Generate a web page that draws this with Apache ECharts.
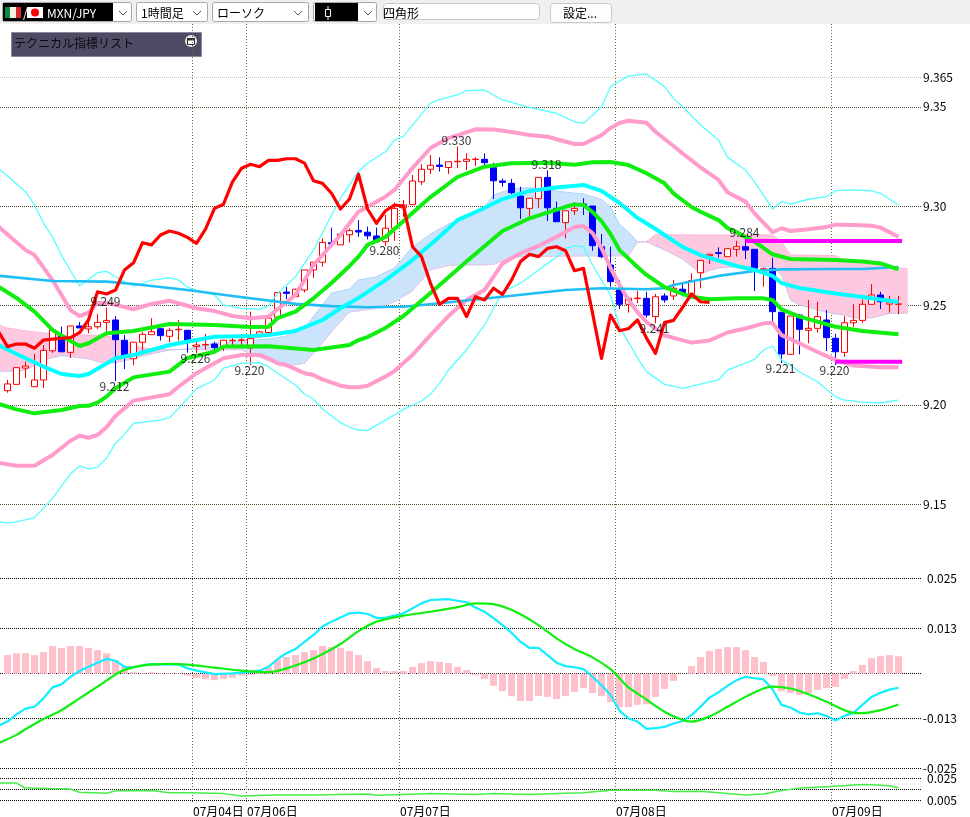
<!DOCTYPE html>
<html>
<head>
<meta charset="utf-8">
<style>html,body{margin:0;padding:0;background:#fff}#chart{width:970px;height:817px}</style>
<script src="https://cdn.jsdelivr.net/npm/echarts@6/dist/echarts.min.js"></script>
</head>
<body>
<div id="chart"></div>
<script>
// MXN/JPY hourly candles, index 0 is the oldest bar.
const opens = [9.2071,9.2103,9.2185,9.2091,9.2125,9.2272,9.2346,9.2264,9.2397,9.2382,
9.2393,9.2415,9.2427,9.2325,9.2232,9.2315,9.2353,9.2383,9.2345,9.2378,
9.2375,9.2293,9.2302,9.2306,9.2288,9.2323,9.2325,9.2286,9.2351,9.2364,
9.2441,9.2568,9.2544,9.2578,9.2679,9.2718,9.2816,9.2805,9.2856,9.2878,
9.2869,9.2850,9.2821,9.2889,9.2992,9.3008,9.3123,9.3186,9.3207,9.3195,
9.3224,9.3226,9.3235,9.3236,9.3194,9.3127,9.3115,9.3051,9.2989,9.3038,
9.3145,9.2989,9.2917,9.2977,9.3011,9.3001,9.2796,9.2704,9.2582,9.2506,
9.2535,9.2536,9.2444,9.2548,9.2548,9.2582,9.2558,9.2665,9.2751,9.2766,
9.2746,9.2783,9.2796,9.2783,9.2680,9.2687,9.2466,9.2254,9.2452,9.2375,
9.2385,9.2427,9.2335,9.2264,9.2413,9.2425,9.2506,9.2553,9.2507,9.2506];
const closes = [9.2105,9.2187,9.2195,9.2125,9.2274,9.2377,9.2267,9.2397,9.2387,9.2393,
9.2415,9.2425,9.2328,9.2242,9.2315,9.2355,9.2368,9.2348,9.2375,9.2380,
9.2323,9.2301,9.2304,9.2288,9.2325,9.2325,9.2327,9.2333,9.2367,9.2436,
9.2565,9.2561,9.2582,9.2679,9.2718,9.2818,9.2810,9.2860,9.2877,9.2870,
9.2851,9.2821,9.2889,9.2989,9.3006,9.3127,9.3186,9.3206,9.3200,9.3224,
9.3226,9.3236,9.3237,9.3219,9.3128,9.3120,9.3068,9.2992,9.3040,9.3145,
9.2992,9.2922,9.2977,9.2989,9.3001,9.2801,9.2746,9.2620,9.2506,9.2536,
9.2537,9.2452,9.2544,9.2528,9.2587,9.2564,9.2626,9.2727,9.2758,9.2762,
9.2786,9.2796,9.2779,9.2687,9.2685,9.2469,9.2256,9.2447,9.2380,9.2385,
9.2444,9.2338,9.2267,9.2413,9.2425,9.2506,9.2553,9.2519,9.2514,9.2508];
const lows = [9.2061,9.2103,9.2135,9.2091,9.2085,9.2262,9.2265,9.2236,9.2387,9.2360,
9.2382,9.2368,9.2120,9.2180,9.2200,9.2267,9.2353,9.2323,9.2315,9.2323,
9.2262,9.2260,9.2276,9.2276,9.2271,9.2291,9.2291,9.2200,9.2336,9.2362,
9.2441,9.2533,9.2544,9.2566,9.2638,9.2695,9.2810,9.2805,9.2816,9.2846,
9.2833,9.2821,9.2800,9.2826,9.2947,9.3008,9.3107,9.3162,9.3174,9.3162,
9.3192,9.3182,9.3202,9.3204,9.3036,9.3098,9.3061,9.2936,9.2947,9.2992,
9.2925,9.2922,9.2838,9.2956,9.2956,9.2776,9.2738,9.2595,9.2482,9.2464,
9.2511,9.2439,9.2410,9.2514,9.2528,9.2548,9.2553,9.2586,9.2709,9.2741,
9.2746,9.2746,9.2734,9.2573,9.2595,9.2422,9.2210,9.2254,9.2254,9.2310,
9.2363,9.2271,9.2200,9.2242,9.2393,9.2413,9.2506,9.2482,9.2464,9.2456];
const highs = [9.2125,9.2190,9.2217,9.2256,9.2301,9.2377,9.2393,9.2397,9.2417,9.2418,
9.2457,9.2490,9.2447,9.2351,9.2315,9.2367,9.2436,9.2387,9.2388,9.2427,
9.2377,9.2336,9.2357,9.2318,9.2327,9.2341,9.2357,9.2469,9.2372,9.2437,
9.2568,9.2593,9.2585,9.2679,9.2718,9.2838,9.2892,9.2870,9.2889,9.2930,
9.2897,9.2892,9.2956,9.3018,9.3031,9.3157,9.3212,9.3258,9.3246,9.3224,
9.3300,9.3266,9.3246,9.3266,9.3219,9.3140,9.3137,9.3098,9.3040,9.3145,
9.3180,9.3023,9.2977,9.3020,9.3040,9.3001,9.2860,9.2796,9.2628,9.2536,
9.2573,9.2569,9.2558,9.2561,9.2628,9.2615,9.2662,9.2727,9.2758,9.2793,
9.2786,9.2826,9.2840,9.2783,9.2692,9.2741,9.2466,9.2447,9.2457,9.2528,
9.2519,9.2477,9.2357,9.2447,9.2506,9.2531,9.2608,9.2569,9.2548,9.2548];

// Band and average curves as [bar index, price] vertices.
const band3Upper = [[-1,9.3191],[2,9.3073],[3,9.3006],[4,9.2915],[5,9.2845],[6,9.2752],[8,9.2598],[9,9.2632],[10,9.2665],[11,9.2672],[12,9.2645],[13,9.2620],[14,9.2598],[15,9.2612],[16,9.2628],[17,9.2633],[18,9.2640],[19,9.2628],[20,9.2592],[21,9.2575],[23,9.2553],[24,9.2503],[26,9.2486],[28,9.2481],[29,9.2497],[30,9.2561],[32,9.2645],[34,9.2779],[37,9.3041],[39,9.3174],[40,9.3216],[42,9.3274],[43,9.3333],[44,9.3353],[47,9.3518],[48,9.3538],[50,9.3560],[51,9.3582],[53,9.3585],[55,9.3535],[58,9.3498],[61,9.3468],[63,9.3425],[64,9.3417],[66,9.3501],[67,9.3602],[69,9.3656],[71,9.3666],[73,9.3602],[74,9.3543],[75,9.3501],[77,9.3409],[79,9.3333],[80,9.3246],[82,9.3182],[83,9.3123],[85,9.2986],[86,9.3023],[87,9.3010],[89,9.3035],[91,9.3048],[92,9.3078],[94,9.3082],[96,9.3077],[97,9.3065],[99,9.3006]];
const band3Lower = [[-1,9.1411],[0,9.1405],[1,9.1411],[3,9.1432],[5,9.1529],[7,9.1652],[8,9.1693],[9,9.1677],[10,9.1685],[11,9.1731],[12,9.1806],[13,9.1851],[14,9.1907],[17,9.1923],[18,9.1935],[19,9.1982],[21,9.2080],[23,9.2125],[24,9.2185],[26,9.2209],[28,9.2212],[29,9.2192],[30,9.2159],[32,9.2100],[33,9.2053],[34,9.2029],[35,9.1979],[37,9.1910],[38,9.1887],[39,9.1873],[40,9.1870],[42,9.1923],[43,9.1949],[44,9.1977],[46,9.2019],[47,9.2054],[48,9.2108],[49,9.2175],[51,9.2276],[53,9.2402],[55,9.2568],[57,9.2613],[58,9.2645],[59,9.2679],[60,9.2712],[61,9.2743],[62,9.2788],[63,9.2800],[64,9.2796],[65,9.2704],[66,9.2628],[67,9.2553],[68,9.2392],[69,9.2316],[70,9.2236],[71,9.2167],[73,9.2103],[75,9.2083],[79,9.2125],[80,9.2175],[83,9.2229],[84,9.2276],[85,9.2296],[86,9.2226],[87,9.2200],[88,9.2165],[90,9.2116],[92,9.2041],[93,9.2024],[95,9.2013],[97,9.2009],[99,9.2024]];
const band2Upper = [[-1,9.2897],[2,9.2779],[3,9.2754],[5,9.2628],[7,9.2477],[8,9.2447],[9,9.2464],[10,9.2513],[11,9.2514],[12,9.2503],[14,9.2481],[16,9.2508],[18,9.2524],[21,9.2486],[23,9.2472],[25,9.2447],[27,9.2436],[29,9.2444],[30,9.2481],[32,9.2553],[34,9.2704],[37,9.2855],[39,9.2972],[42,9.3048],[43,9.3082],[45,9.3192],[47,9.3293],[49,9.3343],[52,9.3387],[54,9.3386],[56,9.3374],[58,9.3358],[60,9.3350],[61,9.3337],[63,9.3313],[64,9.3313],[66,9.3358],[67,9.3394],[68,9.3419],[69,9.3430],[71,9.3420],[72,9.3375],[74,9.3303],[75,9.3266],[77,9.3196],[79,9.3132],[80,9.3070],[82,9.3023],[83,9.2964],[85,9.2869],[86,9.2889],[87,9.2875],[89,9.2884],[91,9.2895],[92,9.2907],[94,9.2905],[96,9.2902],[97,9.2892],[99,9.2846]];
const band2Lower = [[-1,9.1708],[1,9.1693],[3,9.1693],[5,9.1747],[7,9.1819],[8,9.1844],[9,9.1834],[10,9.1848],[11,9.1887],[12,9.1944],[13,9.1982],[14,9.2021],[18,9.2053],[19,9.2091],[21,9.2159],[23,9.2209],[24,9.2234],[26,9.2251],[28,9.2251],[29,9.2234],[30,9.2209],[31,9.2200],[32,9.2180],[33,9.2159],[34,9.2150],[35,9.2128],[37,9.2096],[38,9.2088],[39,9.2088],[40,9.2096],[42,9.2142],[43,9.2170],[45,9.2251],[47,9.2351],[49,9.2447],[51,9.2528],[53,9.2578],[55,9.2712],[57,9.2763],[59,9.2800],[61,9.2846],[63,9.2895],[64,9.2900],[65,9.2865],[66,9.2790],[67,9.2689],[68,9.2603],[69,9.2528],[70,9.2467],[71,9.2417],[73,9.2349],[76,9.2313],[78,9.2324],[80,9.2364],[82,9.2384],[84,9.2410],[85,9.2413],[86,9.2351],[88,9.2310],[90,9.2266],[92,9.2226],[94,9.2198],[97,9.2189],[99,9.2189]];
const band1Upper = [[-1,9.2595],[1,9.2538],[3,9.2469],[5,9.2377],[7,9.2321],[8,9.2296],[9,9.2310],[11,9.2360],[14,9.2372],[18,9.2407],[23,9.2402],[27,9.2392],[29,9.2393],[30,9.2436],[32,9.2469],[34,9.2536],[36,9.2613],[38,9.2699],[39,9.2746],[40,9.2805],[42,9.2845],[45,9.2966],[47,9.3046],[50,9.3147],[53,9.3199],[56,9.3216],[60,9.3219],[63,9.3209],[65,9.3221],[67,9.3223],[69,9.3207],[71,9.3166],[73,9.3115],[74,9.3065],[76,9.2996],[77,9.2972],[79,9.2930],[80,9.2890],[81,9.2870],[82,9.2845],[83,9.2821],[84,9.2790],[85,9.2758],[87,9.2734],[92,9.2729],[95,9.2721],[97,9.2712],[99,9.2682]];
const band1Lower = [[-1,9.2004],[1,9.1977],[3,9.1957],[6,9.1974],[8,9.1994],[9,9.1995],[10,9.2011],[11,9.2041],[12,9.2083],[14,9.2138],[18,9.2167],[20,9.2236],[23,9.2267],[24,9.2293],[29,9.2295],[34,9.2276],[38,9.2301],[39,9.2326],[40,9.2341],[42,9.2387],[44,9.2447],[47,9.2563],[51,9.2721],[55,9.2875],[58,9.2939],[62,9.2997],[63,9.3009],[64,9.3006],[65,9.2971],[66,9.2925],[67,9.2860],[68,9.2779],[70,9.2694],[71,9.2654],[73,9.2593],[75,9.2558],[76,9.2544],[78,9.2531],[81,9.2536],[84,9.2536],[85,9.2528],[86,9.2481],[88,9.2444],[92,9.2393],[95,9.2372],[99,9.2355]];
const midAverage = [[-1,9.2301],[1,9.2256],[4,9.2192],[6,9.2155],[8,9.2145],[9,9.2155],[12,9.2234],[14,9.2251],[18,9.2301],[21,9.2326],[23,9.2343],[27,9.2346],[29,9.2351],[32,9.2372],[35,9.2427],[37,9.2486],[39,9.2538],[42,9.2628],[45,9.2729],[48,9.2846],[50,9.2930],[53,9.2991],[55,9.3036],[58,9.3077],[61,9.3094],[64,9.3107],[66,9.3077],[68,9.3016],[70,9.2941],[72,9.2885],[75,9.2795],[77,9.2754],[81,9.2699],[83,9.2679],[85,9.2649],[86,9.2613],[88,9.2588],[92,9.2560],[95,9.2543],[99,9.2518]];
const longAverage = [[-1,9.2650],[5,9.2623],[11,9.2620],[14,9.2608],[20,9.2578],[25,9.2548],[32,9.2508],[36,9.2497],[40,9.2491],[44,9.2494],[48,9.2511],[55,9.2544],[62,9.2578],[66,9.2587],[71,9.2582],[73,9.2587],[74,9.2603],[79,9.2649],[83,9.2674],[86,9.2682],[92,9.2684],[95,9.2684],[99,9.2694]];

// Lagging close, one value per bar from index -1 up to bar 78.
const laggingClose = [9.2368,9.2293,9.2306,9.2306,9.2285,9.2326,9.2331,9.2335,9.2338,9.2363,9.2427,
9.2569,9.2558,9.2578,9.2679,9.2715,9.2816,9.2805,9.2855,9.2875,9.2864,
9.2843,9.2813,9.2885,9.2989,9.3010,9.3123,9.3191,9.3211,9.3199,9.3231,
9.3231,9.3239,9.3239,9.3217,9.3128,9.3115,9.3065,9.2986,9.3036,9.3161,
9.2986,9.2914,9.2977,9.3006,9.3001,9.2796,9.2746,9.2612,9.2506,9.2536,
9.2536,9.2444,9.2544,9.2528,9.2587,9.2556,9.2628,9.2721,9.2758,9.2746,
9.2788,9.2796,9.2776,9.2675,9.2687,9.2462,9.2234,9.2452,9.2373,9.2384,
9.2427,9.2336,9.2259,9.2414,9.2425,9.2490,9.2558,9.2519,9.2516];

// Leading spans of the cloud, sampled at the same bars.
const spanBars = [-1,0,2,4,6,9,11,13,15,17,18,20,23,26,29,31,33,35,36,38,39,41,43,45,47,49,51,53,54,56,58,60,62,64,66,67,68,69,70,71,72,73,75,77,79,81,83,85,86,87,88,90,92,93,94,96,98,99,100];
const spanOne = [9.2402,9.2387,9.2372,9.2362,9.2351,9.2351,9.2349,9.2321,9.2286,9.2281,9.2278,9.2278,9.2278,9.2276,9.2221,9.2195,9.2208,9.2311,9.2367,9.2467,9.2472,9.2487,9.2518,9.2573,9.2679,9.2701,9.2704,9.2704,9.2707,9.2744,9.2747,9.2747,9.2748,9.2749,9.2749,9.2749,9.2749,9.2749,9.2820,9.2821,9.2857,9.2856,9.2856,9.2855,9.2855,9.2855,9.2855,9.2855,9.2820,9.2754,9.2754,9.2753,9.2751,9.2729,9.2724,9.2714,9.2699,9.2687,9.2687];
const spanTwo = [9.2170,9.2168,9.2173,9.2226,9.2248,9.2231,9.2205,9.2221,9.2246,9.2266,9.2276,9.2281,9.2311,9.2321,9.2331,9.2346,9.2387,9.2503,9.2563,9.2583,9.2628,9.2645,9.2689,9.2795,9.2860,9.2910,9.2947,9.2996,9.3056,9.3087,9.3094,9.3082,9.3071,9.3061,9.3034,9.2996,9.2908,9.2870,9.2820,9.2821,9.2800,9.2779,9.2734,9.2662,9.2689,9.2694,9.2695,9.2695,9.2654,9.2528,9.2503,9.2477,9.2457,9.2452,9.2437,9.2437,9.2460,9.2461,9.2461];

// Recent high and low levels.
const highLevel = [[82,9.2825],[99.4,9.2825]];
const lowLevel = [[92,9.2217],[99.4,9.2217]];

// Extreme labels: bar and price.
const highNotes = [[11,9.249],[50,9.330],[60,9.318],[82,9.284]];
const lowNotes = [[12,9.212],[21,9.226],[27,9.220],[42,9.280],[72,9.241],[86,9.221],[92,9.220]];

// MACD panel.
const macdHist = [.0049,.0054,.0054,.0049,.0057,.0073,.0068,.0073,.0073,.0068,
.0062,.0054,.0036,.0018,.0004,.0002,.0004,.0002,.0002,.0002,
-.0005,-.0011,-.0014,-.0017,-.0014,-.0011,-.0005,-.0003,.0002,.0017,
.0036,.0044,.0049,.0057,.0062,.0073,.0070,.0068,.0060,.0049,
.0033,.0015,.0007,.0007,.0007,.0018,.0028,.0033,.0031,.0028,
.0018,.0010,-.0004,-.0014,-.0032,-.0046,-.0059,-.0072,-.0072,-.0059,
-.0061,-.0067,-.0059,-.0048,-.0038,-.0051,-.0059,-.0075,-.0088,-.0088,
-.0082,-.0080,-.0061,-.0040,-.0019,-.0001,.0020,.0044,.0060,.0065,
.0070,.0070,.0062,.0044,.0031,-.0006,-.0046,-.0051,-.0056,-.0051,
-.0043,-.0038,-.0035,-.0014,.0007,.0023,.0041,.0046,.0049,.0046];
const macdLine = [[-1,-.0137],[0,-.0126],[1,-.0107],[2,-.0092],[3,-.0087],[4,-.0065],[5,-.0036],[6,-.0028],[7,-.0008],[8,.0007],[9,.0018],[10,.0029],[11,.0039],[12,.0034],[13,.0018],[14,.0017],[16,.0025],[19,.0024],[20,.0014],[21,.0008],[23,-.0001],[25,.0001],[27,.0005],[28,.0008],[29,.0018],[30,.0038],[31,.0054],[32,.0065],[33,.0084],[34,.0102],[35,.0124],[36,.0137],[38,.0159],[39,.0161],[40,.0157],[41,.0147],[42,.0147],[44,.0159],[46,.0185],[47,.0194],[49,.0196],[51,.0188],[52,.0174],[53,.0163],[54,.0146],[55,.0128],[56,.0108],[57,.0084],[58,.0068],[59,.0068],[60,.0049],[61,.0029],[62,.0020],[63,.0017],[64,.0012],[65,-.0008],[66,-.0030],[67,-.0056],[68,-.0097],[69,-.0118],[70,-.0126],[71,-.0145],[72,-.0143],[73,-.0140],[74,-.0131],[75,-.0125],[76,-.0109],[77,-.0087],[78,-.0063],[79,-.0049],[80,-.0032],[81,-.0017],[82,-.0008],[83,-.0012],[84,-.0015],[85,-.0041],[86,-.0082],[87,-.0089],[88,-.0102],[89,-.0107],[90,-.0104],[91,-.0111],[92,-.0123],[93,-.0111],[94,-.0103],[95,-.0082],[96,-.0061],[97,-.0050],[98,-.0042],[99,-.0037]];
const macdSignal = [[-1,-.0183],[1,-.0161],[2,-.0146],[4,-.0119],[6,-.0096],[8,-.0065],[10,-.0034],[12,-.0002],[13,.0010],[15,.0022],[18,.0026],[20,.0024],[23,.0016],[26,.0008],[29,.0004],[31,.0014],[34,.0040],[37,.0078],[39,.0112],[41,.0137],[44,.0153],[47,.0163],[50,.0175],[52,.0185],[54,.0183],[56,.0168],[59,.0128],[61,.0093],[63,.0065],[65,.0043],[67,.0012],[68,-.0012],[69,-.0036],[71,-.0068],[73,-.0100],[75,-.0122],[76,-.0126],[78,-.0113],[80,-.0087],[82,-.0061],[84,-.0039],[85,-.0034],[87,-.0039],[89,-.0054],[91,-.0074],[93,-.0096],[94,-.0103],[95,-.0104],[97,-.0096],[99,-.0081]];

// Lower strength panel.
const strengthLine = [[-1,.0204],[1,.0204],[2,.0158],[7,.0149],[8,.0121],[11,.0112],[12,.0133],[16,.0136],[18,.0117],[20,.0117],[24,.0108],[26,.0087],[30,.0096],[34,.0096],[40,.0105],[41,.0093],[44,.0099],[47,.0108],[52,.0099],[54,.0108],[58,.0099],[61,.0108],[64,.0115],[67,.0139],[72,.0139],[74,.0127],[77,.0130],[82,.0096],[84,.0105],[86,.0136],[88,.0158],[91,.0170],[95,.0191],[96,.0188],[98,.0179],[99,.0161]];

// Axis ticks and their text.
const dateTickBars = [20.5,26.5,43.5,67.5,91.5];
const dateTickLabels = ['07月04日','07月06日','07月07日','07月08日','07月09日'];
const priceTicks = [9.15,9.20,9.25,9.30,9.35,9.365];
const priceTickLabels = ['9.15','9.20','9.25','9.30','9.35','9.365'];
const macdTicks = [-.025,-.0118,0,.0119,.025];
const macdTickLabels = ['-0.025','-0.013','','0.013','0.025'];
const strengthTicks = [.005,.015,.025];
const strengthTickLabels = ['0.005','','0.025'];

const FONT_JP = '"Noto Sans CJK JP","Noto Sans",sans-serif';
const GRID_DOT = '#4d4d2e';
const VLINE_DOT = '#556b2f';
const TICK_TEXT_LIFT = [0,0,7,0];

// Map a bar index onto pixels: one bar is 9px wide and bar 0 is centred at x=7.5.
const barsMin = -7.5 / 9;
const barsMax = (921 - 7.5) / 9;

const labelFor = (ticks, labels) => v => {
  const k = ticks.findIndex(t => Math.abs(t - v) < 1e-6);
  return k < 0 ? '' : labels[k];
};

const hiddenX = (gridIndex) => ({type:'value',gridIndex,min:barsMin,max:barsMax,show:false});

function lineSeries(name, data, color, width, z, extra) {
  return Object.assign({
    name, type:'line', data, xAxisIndex:0, yAxisIndex:0, symbol:'none',
    lineStyle:{color, width, join:'round'}, z, silent:true, clip:true
  }, extra || {});
}

function renderCloudSegment(params, api) {
  const a = api.coord([api.value(0), api.value(1)]);
  const b = api.coord([api.value(3), api.value(4)]);
  const c = api.coord([api.value(3), api.value(5)]);
  const d = api.coord([api.value(0), api.value(2)]);
  const pinkSide = api.value(1) + api.value(4) >= api.value(2) + api.value(5);
  const fill = pinkSide ? '#fec9e0' : '#cbe3fb';
  return {type:'polygon', shape:{points:[a,b,c,d]}, style:{fill, stroke:fill, lineWidth:0.6}};
}

const cloudSegments = spanBars.slice(1).map((bar, k) =>
  [spanBars[k], spanOne[k], spanTwo[k], bar, spanOne[k + 1], spanTwo[k + 1]]);
const spanLine = values => spanBars.map((bar, k) => [bar, values[k]]);
const noteSeries = (name, notes, dy) => ({
  name, type:'scatter', xAxisIndex:0, yAxisIndex:0, z:8, silent:true,
  data: notes, symbolSize:1, itemStyle:{color:'rgba(0,0,0,0)'},
  label:{show:true, position:'inside', offset:[-1,dy], color:'#000', fontFamily:FONT_JP, fontSize:12,
         formatter:p => p.value[1].toFixed(3)}
});

// Toolbar controls along the top edge.
const chevron = x => ({type:'polyline', shape:{points:[[x-4,11],[x,15],[x+4,11]]}, style:{stroke:'#555',lineWidth:1,fill:null}});
const combo = (x, w) => ({type:'rect', shape:{x:x+.5,y:2.5,width:w,height:19,r:2}, style:{fill:'#fff',stroke:'#a8a8a8',lineWidth:1}});
const barText = (text, x, color) => ({type:'text', x, y:13, style:{text, fill:color||'#000', font:'12px '+FONT_JP, verticalAlign:'middle'}});
const toolbar = [
  {type:'rect', shape:{x:0,y:0,width:970,height:24}, style:{fill:'#f0f0f0'}},
  combo(2,129), {type:'rect', shape:{x:3,y:3,width:110,height:18}, style:{fill:'#000'}},
  {type:'rect', shape:{x:5,y:7,width:5,height:11}, style:{fill:'#0a8a3c'}},
  {type:'rect', shape:{x:10,y:7,width:6,height:11}, style:{fill:'#f4f0e6'}},
  {type:'rect', shape:{x:16,y:7,width:5,height:11}, style:{fill:'#d9272e'}},
  barText('/', 23, '#fff'),
  {type:'rect', shape:{x:27,y:7,width:16,height:11}, style:{fill:'#fff'}},
  {type:'circle', shape:{cx:35,cy:12.5,r:4}, style:{fill:'#f00'}},
  barText('MXN/JPY', 47, '#fff'), chevron(123),
  combo(136,71), barText('1時間足', 141), chevron(197),
  combo(212,96), barText('ローソク', 217), chevron(298),
  combo(313,63), {type:'rect', shape:{x:315,y:3,width:43,height:18}, style:{fill:'#000'}},
  {type:'rect', shape:{x:325.5,y:9.5,width:5,height:7}, style:{fill:'#000',stroke:'#fff',lineWidth:1}},
  {type:'line', shape:{x1:328,y1:6,x2:328,y2:9}, style:{stroke:'#fff',lineWidth:1}},
  {type:'line', shape:{x1:328,y1:17,x2:328,y2:20}, style:{stroke:'#fff',lineWidth:1}},
  chevron(368),
  {type:'rect', shape:{x:383.5,y:3.5,width:156,height:16,r:3}, style:{fill:'#fff',stroke:'#c8c8c8',lineWidth:1}},
  barText('四角形', 383),
  {type:'rect', shape:{x:550.5,y:3.5,width:61,height:19,r:3}, style:{fill:'#fdfdfd',stroke:'#c8c8c8',lineWidth:1}},
  barText('設定...', 563),
  {type:'rect', shape:{x:11.5,y:32.5,width:190,height:24}, style:{fill:'#4e4c64',stroke:'#8a889c',lineWidth:1}},
  {type:'text', x:14, y:43, style:{text:'テクニカル指標リスト', fill:'#0a0a12', font:'12px '+FONT_JP, verticalAlign:'middle'}},
  {type:'circle', shape:{cx:191,cy:41,r:6}, style:{fill:'#e8e8ee'}},
  {type:'rect', shape:{x:187.5,y:38.5,width:7,height:6}, style:{fill:'#fff',stroke:'#3a2a2a',lineWidth:1}},
  {type:'line', shape:{x1:187,y1:39.5,x2:195,y2:39.5}, style:{stroke:'#3a2a2a',lineWidth:2}}
];

const chart = echarts.init(document.getElementById('chart'), null, {renderer:'canvas'});
chart.setOption({
  animation:false,
  backgroundColor:'#ffffff',
  grid:[
    {left:0,width:921,top:24,height:546},
    {left:0,width:921,top:578,height:191},
    {left:0,width:921,top:778,height:22},
    {left:0,width:921,top:24,height:781}
  ],
  xAxis:[
    hiddenX(0), hiddenX(1), hiddenX(2),
    {type:'value',gridIndex:3,min:barsMin,max:barsMax,axisLine:{show:false},
     axisTick:{show:false,customValues:dateTickBars},
     splitLine:{show:true,lineStyle:{color:VLINE_DOT,type:[1,2],width:1}},
     axisLabel:{customValues:dateTickBars,formatter:labelFor(dateTickBars,dateTickLabels),
       align:'left',margin:1,padding:[0,0,0,1],color:'#000',fontFamily:FONT_JP,fontSize:12,hideOverlap:false,
       showMinLabel:true,showMaxLabel:true}}
  ],
  yAxis:[
    {type:'value',gridIndex:0,position:'right',min:9.25-264.5/1986,max:9.25+281.5/1986,
     axisLine:{show:false},axisTick:{show:false,customValues:priceTicks},
     splitLine:{show:true,lineStyle:{color:[GRID_DOT,GRID_DOT,GRID_DOT,GRID_DOT,GRID_DOT,'#c4c4c4'],type:[1,1],width:1}},
     axisLabel:{customValues:priceTicks,formatter:labelFor(priceTicks,priceTickLabels),margin:2,
       padding:TICK_TEXT_LIFT,color:'#000',fontFamily:FONT_JP,fontSize:12}},
    {type:'value',gridIndex:1,position:'right',min:-(769-673.7)/3800,max:(673.7-578)/3800,
     axisLine:{show:false},axisTick:{show:false,customValues:macdTicks},
     splitLine:{show:true,lineStyle:{color:'#000',type:[1,1],width:1}},
     axisLabel:{customValues:macdTicks,formatter:labelFor(macdTicks,macdTickLabels),margin:36,align:'right',
       padding:TICK_TEXT_LIFT,color:'#000',fontFamily:FONT_JP,fontSize:12}},
    {type:'value',gridIndex:2,position:'right',min:.005,max:.025,
     axisLine:{show:false},axisTick:{show:false,customValues:strengthTicks},
     splitLine:{show:true,lineStyle:{color:'#000',type:[1,1],width:1}},
     axisLabel:{customValues:strengthTicks,formatter:labelFor(strengthTicks,strengthTickLabels),margin:36,align:'right',
       padding:TICK_TEXT_LIFT,color:'#000',fontFamily:FONT_JP,fontSize:12}},
    {type:'value',gridIndex:3,show:false,min:0,max:1}
  ],
  graphic:toolbar,
  series:[
    {name:'一目雲',type:'custom',xAxisIndex:0,yAxisIndex:0,z:1,silent:true,clip:true,
     data:cloudSegments,encode:{x:[0,3],y:[1,2,4,5]},renderItem:renderCloudSegment},
    lineSeries('先行スパン1',spanLine(spanOne),'#ff9fd0',1,1.5,{lineStyle:{color:'#ff9fd0',width:1,type:[1,1]}}),
    lineSeries('先行スパン2',spanLine(spanTwo),'#8fc0f5',1,1.5,{lineStyle:{color:'#8fc0f5',width:1,type:[1,1]}}),
    {name:'ローソク',type:'candlestick',xAxisIndex:0,yAxisIndex:0,z:2,silent:true,barWidth:6,
     data:opens.map((o,i)=>[i,o,closes[i],lows[i],highs[i]]),
     encode:{x:0,y:[1,2,3,4]},
     itemStyle:{color:'#ffffff',color0:'#0000ff',borderColor:'#ff0000',borderColor0:'#0000ff',borderWidth:1}},
    lineSeries('バンド+3',band3Upper,'#55ffff',1.3,3),
    lineSeries('バンド-3',band3Lower,'#55ffff',1.3,3),
    lineSeries('バンド+2',band2Upper,'#ff9ccc',4,3),
    lineSeries('バンド-2',band2Lower,'#ff9ccc',4,3),
    lineSeries('長期平均',longAverage,'#1fbff5',2.6,3.2),
    lineSeries('バンド+1',band1Upper,'#10ee10',4,3.4),
    lineSeries('バンド-1',band1Lower,'#10ee10',4,3.4),
    lineSeries('中心線',midAverage,'#00ffff',4,3.3),
    lineSeries('遅行スパン',laggingClose.map((v,k)=>[k-1,v]),'#ff0000',3.2,5),
    lineSeries('高値',highLevel,'#ff00ff',4,6),
    lineSeries('安値',lowLevel,'#ff00ff',4,6),
    noteSeries('高値ラベル',highNotes,-6),
    noteSeries('安値ラベル',lowNotes,5),
    {name:'ヒストグラム',type:'bar',xAxisIndex:1,yAxisIndex:1,barWidth:7,silent:true,z:1,
     data:macdHist.map((v,i)=>[i,v]),itemStyle:{color:'#ffc0cb'}},
    lineSeries('MACD',macdLine,'#11eeff',2.2,3,{xAxisIndex:1,yAxisIndex:1}),
    lineSeries('シグナル',macdSignal,'#11ee11',2.2,4,{xAxisIndex:1,yAxisIndex:1,smooth:0.25}),
    lineSeries('強度',strengthLine,'#44ee44',1.5,3,{xAxisIndex:2,yAxisIndex:2})
  ]
});
</script>
</body>
</html>
